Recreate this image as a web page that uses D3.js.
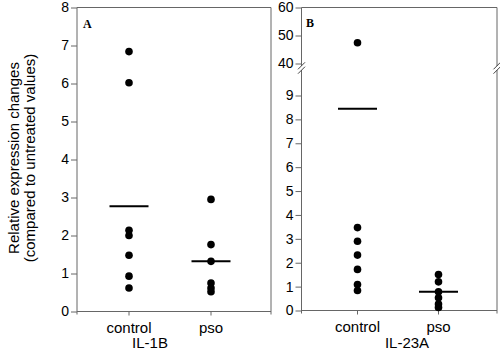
<!DOCTYPE html>
<html>
<head>
<meta charset="utf-8">
<script src="https://cdn.jsdelivr.net/npm/d3@7"></script>
<style>
  body { margin: 0; background: #fff; }
  svg text { font-family: "Liberation Sans", Arial, sans-serif; }
  .panel { font-family: "Liberation Serif", "Times New Roman", serif !important; font-weight: bold; }
</style>
</head>
<body>
<div id="chart"></div>
<script>

// categories and values
var groups = ["control", "pso"];

var il1bControl = [6.84, 6.02, 2.14, 2.0, 1.48, 0.93, 0.62];
var il1bPso = [2.95, 1.76, 1.32, 0.75, 0.62, 0.52];
var il1bMeans = [2.77, 1.32];

var il23aControl = [47.4, 3.47, 2.9, 2.32, 1.72, 1.09, 0.84];
var il23aPso = [1.51, 1.2, 0.78, 0.53, 0.27, 0.13];
var il23aMeans = [8.45, 0.78];

var ticksA = [0, 1, 2, 3, 4, 5, 6, 7, 8];
var ticksBlow = [0, 1, 2, 3, 4, 5, 6, 7, 8, 9];
var ticksBhigh = [40, 50, 60];

var width = 500, height = 350;
var axisColor = "#666";

var svg = d3.select("#chart").append("svg")
  .attr("width", width)
  .attr("height", height);

// y axis title
var title = svg.append("text")
  .attr("transform", "translate(19,158) rotate(-90)")
  .attr("text-anchor", "middle")
  .style("font-size", "15px");
title.append("tspan").attr("x", 0).attr("y", 0).text("Relative expression changes");
title.append("tspan").attr("x", 0).attr("y", 16).text("(compared to untreated values)");

function dots(g, x, y, values, group) {
  g.selectAll("circle." + group)
    .data(values)
    .enter()
    .append("circle")
    .attr("class", group)
    .attr("cx", x(group))
    .attr("cy", function(d) { return y(d); })
    .attr("r", 3.8)
    .attr("fill", "#000");
}

function meanLines(g, x, y, means) {
  g.selectAll("line.mean")
    .data(means)
    .enter()
    .append("line")
    .attr("class", "mean")
    .attr("x1", function(d, i) { return x(groups[i]) - 19.5; })
    .attr("x2", function(d, i) { return x(groups[i]) + 19.5; })
    .attr("y1", function(d) { return y(d); })
    .attr("y2", function(d) { return y(d); })
    .attr("stroke", "#000")
    .attr("stroke-width", 2);
}

function frame(g, left, right, plotTop, bottom, x) {
  // top and right border
  g.append("path")
    .attr("d", "M" + left + "," + plotTop + "H" + right + "V" + (bottom + 3))
    .attr("fill", "none")
    .attr("stroke", axisColor);
  // bottom axis with group ticks
  g.append("line")
    .attr("x1", left).attr("x2", right)
    .attr("y1", bottom).attr("y2", bottom)
    .attr("stroke", axisColor);
  g.selectAll("line.xt")
    .data(groups)
    .enter()
    .append("line")
    .attr("class", "xt")
    .attr("x1", function(d) { return x(d); })
    .attr("x2", function(d) { return x(d); })
    .attr("y1", bottom).attr("y2", bottom + 4)
    .attr("stroke", axisColor);
  g.selectAll("text.xl")
    .data(groups)
    .enter()
    .append("text")
    .attr("class", "xl")
    .attr("x", function(d) { return x(d); })
    .attr("y", bottom + 21)
    .attr("text-anchor", "middle")
    .style("font-size", "15px")
    .text(function(d) { return d; });
}

function yAxis(g, left, y, ticks, range) {
  var ax = d3.axisLeft(y).tickValues(ticks).tickSize(6).tickPadding(2).tickSizeOuter(0);
  var a = g.append("g")
    .attr("transform", "translate(" + left + ",0)")
    .call(ax);
  a.select(".domain").remove();
  a.selectAll("line").attr("stroke", axisColor);
  a.selectAll("text").style("font-size", "14px").attr("fill", "#000")
    .style("font-family", "Liberation Sans, Arial, sans-serif");
  g.append("line")
    .attr("x1", left).attr("x2", left)
    .attr("y1", range[0]).attr("y2", range[1])
    .attr("stroke", axisColor);
}

function breakMark(g, x, y) {
  g.append("rect")
    .attr("x", x - 3).attr("y", y - 2)
    .attr("width", 6).attr("height", 4)
    .attr("fill", "#fff");
  [-2.2, 2.2].forEach(function(o) {
    g.append("line")
      .attr("x1", x - 3.5).attr("y1", y + o + 3.5)
      .attr("x2", x + 3.5).attr("y2", y + o - 3.5)
      .attr("stroke", "#444");
  });
}

var plotTop = 7.5;

// ---- panel A : IL-1B
var aLeft = 77, aRight = 271, aBottom = 311.5;
var gA = svg.append("g");
var xA = d3.scalePoint().domain(groups).range([129, 211]);
var yA = d3.scaleLinear().domain([0, 8]).range([aBottom, plotTop]);

frame(gA, aLeft, aRight, plotTop, aBottom, xA);
yAxis(gA, aLeft, yA, ticksA, [plotTop, aBottom + 3]);
dots(gA, xA, yA, il1bControl, "control");
dots(gA, xA, yA, il1bPso, "pso");
meanLines(gA, xA, yA, il1bMeans);

gA.append("text")
  .attr("class", "panel")
  .attr("x", 83).attr("y", 27.5)
  .style("font-size", "12px")
  .text("A");
gA.append("text")
  .attr("x", 150).attr("y", 348)
  .attr("text-anchor", "middle")
  .style("font-size", "15px")
  .text("IL-1B");

// ---- panel B : IL-23A, broken axis
var bLeft = 301.5, bRight = 497, bBottom = 310.5, breakY = 68;
var gB = svg.append("g");
var xB = d3.scalePoint().domain(groups).range([357.5, 438.5]);
var yBlow = d3.scaleLinear().domain([0, 9]).range([bBottom, 95.5]);
var yBhigh = d3.scaleLinear().domain([40, 60]).range([63.5, plotTop]);
function yB(v) { return v >= 30 ? yBhigh(v) : yBlow(v); }

frame(gB, bLeft, bRight, plotTop, bBottom, xB);
yAxis(gB, bLeft, yBlow, ticksBlow, [breakY, bBottom + 3]);
yAxis(gB, bLeft, yBhigh, ticksBhigh, [plotTop, breakY]);
dots(gB, xB, yB, il23aControl, "control");
dots(gB, xB, yB, il23aPso, "pso");
meanLines(gB, xB, yB, il23aMeans);
breakMark(gB, bLeft, breakY);
breakMark(gB, bRight, breakY);

gB.append("text")
  .attr("class", "panel")
  .attr("x", 306).attr("y", 26.7)
  .style("font-size", "12px")
  .text("B");
gB.append("text")
  .attr("x", 407).attr("y", 348)
  .attr("text-anchor", "middle")
  .style("font-size", "15px")
  .text("IL-23A");

</script>
</body>
</html>
